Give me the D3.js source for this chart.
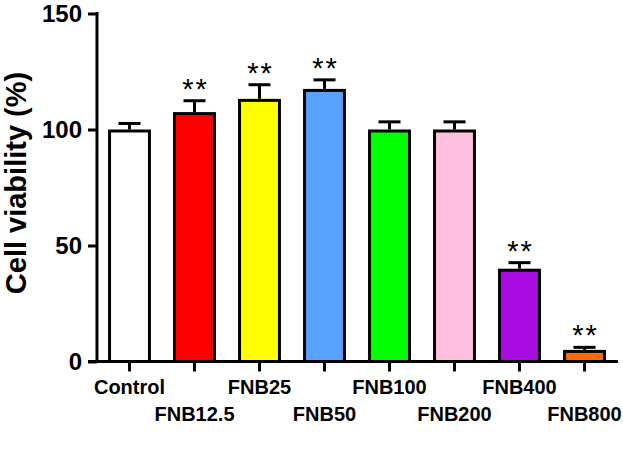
<!DOCTYPE html>
<html><head><meta charset="utf-8">
<script src="https://cdn.jsdelivr.net/npm/d3@7"></script>
<style>
html,body{margin:0;padding:0;background:#fff;}
svg{display:block;font-family:"Liberation Sans",Arial,sans-serif;}
</style></head>
<body>
<svg id="chart" width="623" height="468"></svg>
<script>
const categories = ["Control","FNB12.5","FNB25","FNB50","FNB100","FNB200","FNB400","FNB800"];
const means = [100, 107.5, 113.2, 117.5, 100, 100, 40, 5];
const errors = [2.6, 4.9, 6.1, 3.9, 3.3, 3.3, 2.6, 1.1];
const significance = ["", "**", "**", "**", "", "", "**", "**"];
const barColors = ["#FFFFFF","#FF0000","#FFFF00","#58A2FF","#00FF00","#FFC0DF","#A90CE0","#FF6A00"];
const yTicks = [0, 50, 100, 150];
const yTitle = "Cell viability (%)";

const svg = d3.select("#chart");
const x = d3.scaleBand().domain(categories).range([97, 617]).paddingInner(0.34).paddingOuter(0.17);
const y = d3.scaleLinear().domain([0, 150]).range([361.5, 13.5]);
const lw = 3;

// bars
svg.append("g").selectAll("rect").data(categories).join("rect")
  .attr("x", d => x(d) + 1.5)
  .attr("width", x.bandwidth() - 3)
  .attr("y", (d,i) => y(means[i]) + 1.5)
  .attr("height", (d,i) => y(0) - y(means[i]) - 1.5)
  .attr("fill", (d,i) => barColors[i])
  .attr("stroke", "#000").attr("stroke-width", lw);

// error bars (upper only)
const eg = svg.append("g").attr("stroke", "#000").attr("stroke-width", lw);
categories.forEach((c,i) => {
  const cx = x(c) + x.bandwidth()/2;
  const top = y(means[i] + errors[i]);
  eg.append("line").attr("x1", cx).attr("x2", cx).attr("y1", y(means[i])).attr("y2", top);
  eg.append("line").attr("x1", cx - 11).attr("x2", cx + 11).attr("y1", top).attr("y2", top);
});

// significance stars
svg.append("g").selectAll("text").data(categories).join("text")
  .attr("x", d => x(d) + x.bandwidth()/2 + 1)
  .attr("y", (d,i) => y(means[i] + errors[i]) - 2)
  .attr("text-anchor", "middle")
  .attr("font-size", 29)
  .attr("letter-spacing", 2)
  .attr("fill", "#000")
  .text((d,i) => significance[i]);

// y axis
const yAxis = svg.append("g").attr("transform", "translate(97,0)")
  .call(d3.axisLeft(y).tickValues(yTicks).tickSize(9).tickPadding(6).tickFormat(d3.format("d")));
yAxis.select(".domain").attr("d", `M0,${y(150)}V${y(0)}`).attr("stroke-width", lw).attr("stroke-linecap","square");
yAxis.selectAll(".tick line").attr("stroke-width", lw);
yAxis.selectAll(".tick text").attr("font-size", 24).attr("font-weight", "bold").attr("fill", "#000")
  .attr("font-family", "Liberation Sans, Arial, sans-serif");

// x axis
const xAxis = svg.append("g").attr("transform", `translate(0,${y(0)})`)
  .call(d3.axisBottom(x).tickSize(10).tickFormat(""));
xAxis.select(".domain").attr("d", "M88,0H618").attr("stroke-width", lw);
xAxis.selectAll(".tick line").attr("stroke-width", lw);

// x labels: horizontal, staggered on two rows so they do not collide
svg.append("g").selectAll("text").data(categories).join("text")
  .attr("x", d => x(d) + x.bandwidth()/2)
  .attr("y", (d,i) => y(0) + (i % 2 === 0 ? 32 : 59))
  .attr("text-anchor", "middle")
  .attr("font-size", 20).attr("font-weight", "bold").attr("fill", "#000")
  .text(d => d);

// y title
svg.append("text")
  .attr("transform", "translate(26,183) rotate(-90)")
  .attr("text-anchor", "middle")
  .attr("font-size", 29).attr("font-weight", "bold").attr("fill", "#000")
  .text(yTitle);
</script>
</body></html>
